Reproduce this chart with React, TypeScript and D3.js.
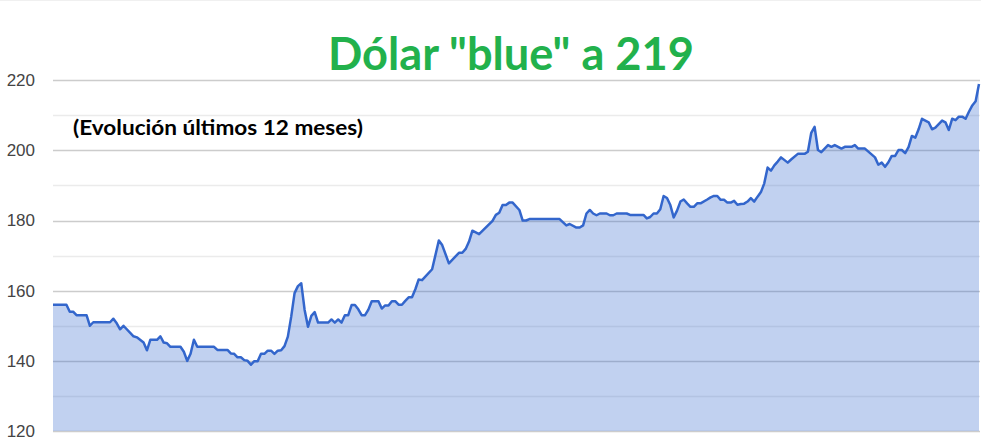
import React from "react";
import * as d3 from "d3";

// Trading-day index (0 = first day of the 12-month window) and closing value
const dias: number[] = [
  0, 4, 5, 6, 7, 10, 11, 12, 17, 18, 19, 20, 21, 24, 25, 27, 28, 29, 31, 32, 33, 34, 35, 38, 39, 40, 41, 42, 43, 48,
  49, 52, 53, 54, 55, 56, 57, 58, 59, 60, 61, 62, 63, 64, 65, 66, 67, 68, 69, 70, 71, 72, 73, 74, 75, 76, 77, 78, 79, 82,
  83, 84, 85, 86, 87, 88, 89, 90, 91, 92, 93, 94, 95, 97, 98, 99, 100, 101, 102, 103, 104, 105, 106, 107, 108, 109, 110, 113, 115, 116,
  118, 121, 122, 123, 124, 125, 127, 131, 132, 133, 134, 135, 136, 137, 139, 140, 141, 142, 151, 153, 154, 156, 157, 158, 159, 160, 161, 162, 163, 165,
  166, 167, 168, 171, 172, 176, 177, 178, 179, 180, 181, 182, 183, 184, 185, 186, 187, 188, 189, 190, 191, 192, 193, 195, 196, 197, 198, 199, 200, 201,
  202, 203, 204, 205, 206, 207, 208, 209, 210, 211, 212, 213, 214, 215, 216, 217, 219, 220, 222, 224, 225, 226, 227, 228, 229, 231, 232, 233, 235, 236,
  238, 239, 240, 242, 245, 246, 247, 248, 249, 250, 251, 252, 253, 254, 255, 256, 257, 258, 259, 261, 262, 263, 265, 266, 267, 268, 269, 270, 271, 272,
  273, 274, 275, 276,
];
const valores: number[] = [
  156, 156, 154, 154, 153, 153, 150, 151, 151, 152, 150.7, 149, 150, 147, 146.7, 145.2, 143, 146, 146, 147, 145.2, 145, 144, 144, 142.6, 140, 142, 146, 144, 144,
  143.1, 143.1, 142.1, 142, 141, 141, 140.2, 140, 138.9, 139.9, 139.9, 142, 142, 142.9, 142.9, 142, 142.9, 143, 144.2, 146.9, 152.6, 159.3, 161.3, 162.1, 154.5, 149.7, 152.8, 153.9, 150.9, 150.9,
  151.8, 150.9, 151.8, 150.9, 153, 153, 155.9, 155.9, 154.7, 153, 153, 154.6, 157, 157, 154.9, 155.8, 155.8, 157, 157, 156, 156, 157.1, 158.1, 158.1, 160.4, 163.2, 163, 166.1, 174.3, 173,
  167.8, 170.8, 170.8, 171.9, 174, 177.1, 176.1, 179.9, 181.6, 182.2, 184.4, 184.4, 185.1, 185.1, 183, 180, 180, 180.4, 180.4, 178.6, 179, 178, 178, 178.6, 182, 183, 182, 181.5, 182, 182,
  181.5, 181.5, 182, 182, 181.6, 181.6, 180.6, 181, 182, 182, 183.2, 187, 186.4, 184.4, 180.9, 182.8, 185.4, 186, 184.9, 183.9, 183.9, 184.9, 184.9, 186, 186.6, 187, 187, 185.9, 185.9, 185.1,
  185.1, 185.6, 184.5, 184.7, 184.8, 185.4, 186.4, 185.4, 186.8, 188.1, 190.6, 195.1, 194.2, 195.7, 196.8, 198, 196.5, 197.4, 199, 199, 199.6, 205, 206.7, 200.1, 199.5, 201.5, 201, 201.5, 200.5, 201,
  201, 201.5, 200.5, 200.5, 198, 195.9, 196.5, 195.3, 196.6, 198.4, 198.4, 200.1, 200.1, 199.2, 200.9, 204.1, 203.6, 206, 209, 208, 206, 206.5, 208.5, 208, 205.8, 209, 208.6, 209.6, 209.6, 209,
  211, 212.8, 214, 218.9,
];

const ticksMayores: number[] = [120, 140, 160, 180, 200, 220];
const ticksMenores: number[] = [130, 150, 170, 190, 210];

const titulo = 'Dólar "blue" a 219';
const subtitulo = "(Evolución últimos 12 meses)";

const W = 981;
const H = 439;

export default function App() {
  const x = d3.scaleLinear().domain([0, 276]).range([53, 979]);
  const y = d3.scaleLinear().domain([120, 230]).range([431, 45.1]);

  const datos = dias.map((d, i) => ({ d, v: valores[i] }));

  const linea = d3
    .line<{ d: number; v: number }>()
    .x((p) => x(p.d))
    .y((p) => y(p.v));
  const area = d3
    .area<{ d: number; v: number }>()
    .x((p) => x(p.d))
    .y0(y(120))
    .y1((p) => y(p.v));

  const snap = (v: number) => Math.round(v) + 0.5;

  return (
    <svg
      width={W}
      height={H}
      style={{ position: "absolute", left: 0, top: 0, display: "block", background: "#fff" }}
    >
      <line x1={0} x2={W} y1={0.5} y2={0.5} stroke="#f0f0f0" strokeWidth={1} />
      {ticksMenores.map((t) => (
        <line key={"m" + t} x1={53} x2={980} y1={snap(y(t))} y2={snap(y(t))} stroke="#ebebeb" strokeWidth={1.5} />
      ))}
      {ticksMayores.map((t) => (
        <line key={"M" + t} x1={53} x2={980} y1={snap(y(t))} y2={snap(y(t))} stroke="#cccccc" strokeWidth={1.5} />
      ))}
      <path d={area(datos) || ""} fill="rgba(51,102,204,0.3)" />
      <path d={linea(datos) || ""} fill="none" stroke="#3366cc" strokeWidth={2.5} strokeLinejoin="round" />
      {ticksMayores.map((t) => (
        <text
          key={"l" + t}
          x={35}
          y={y(t)}
          dy="0.35em"
          textAnchor="end"
          fontFamily="Liberation Sans, Arial, sans-serif"
          fontSize={17}
          fill="#444444"
        >
          {t}
        </text>
      ))}
      <text
        x={328}
        y={70}
        fontFamily="Lato, sans-serif"
        fontWeight={700}
        fontSize={45}
        textLength={366}
        lengthAdjust="spacingAndGlyphs"
        fill="#22b14c"
      >
        {titulo}
      </text>
      <text
        x={73}
        y={135}
        fontFamily="Lato, sans-serif"
        fontWeight={700}
        fontSize={21}
        textLength={290}
        lengthAdjust="spacingAndGlyphs"
        fill="#000"
      >
        {subtitulo}
      </text>
    </svg>
  );
}
